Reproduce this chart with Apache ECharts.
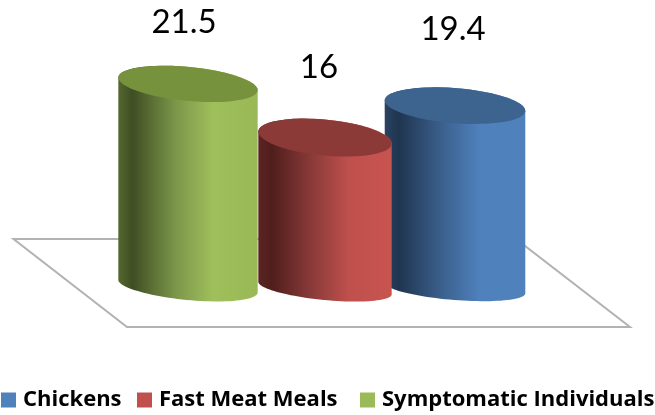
<!DOCTYPE html>
<html>
<head>
<meta charset="utf-8">
<style>html,body{margin:0;padding:0;background:#fff}#chart{width:655px;height:415px}</style>
<script src="https://cdn.jsdelivr.net/npm/echarts@6/dist/echarts.min.js"></script>
</head>
<body>
<div id="chart"></div>
<script>
// Incidence by source, drawn back to front so the nearer cylinders overlap.
const seriesNames = ['Chickens', 'Fast Meat Meals', 'Symptomatic Individuals'];
const positions = ['Symptomatic Individuals', 'Fast Meat Meals', 'Chickens'];
const chickens = [19.4];
const fastMeatMeals = [16];
const symptomaticIndividuals = [21.5];

// Look of each cylinder: flat colour, cap shade, side shading and small perspective adjustments.
const looks = {
  'Chickens': {
    color: '#4f81bd', cap: '#3d638f', tilt: 4.5, rx: 70.5, ry: 17.5, ryBase: 12, dx: -1, dy: 1, labelGap: 76, labelDx: -2,
    side: ['#2a4361', '#1f3550', '#3c628f', '#4f81bd', '#4f81bd']
  },
  'Fast Meat Meals': {
    color: '#c0504d', cap: '#8c3a38', tilt: 5.5, rx: 67, ry: 18, ryBase: 12, dx: 3, dy: 1, labelGap: 70, labelDx: -6,
    side: ['#5a2523', '#4f1e1c', '#8e3c3a', '#c0504d', '#c8544f']
  },
  'Symptomatic Individuals': {
    color: '#9bbb59', cap: '#76923c', tilt: 5.5, rx: 70, ry: 17, ryBase: 14, dx: 0, dy: -1, labelGap: 62, labelDx: -4,
    side: ['#55682f', '#3f4e24', '#7d984a', '#9fbf5b', '#99b956']
  }
};
const sideStops = [0, 0.1, 0.42, 0.68, 1];

// Sampled outline of a tilted ellipse between two parameter angles.
function arc(cx, cy, rx, ry, tilt, from, to) {
  const pts = [];
  const t = tilt * Math.PI / 180;
  const steps = 48;
  for (let i = 0; i <= steps; i++) {
    const a = from + (to - from) * i / steps;
    const ex = rx * Math.cos(a);
    const ey = ry * Math.sin(a);
    pts.push([cx + ex * Math.cos(t) - ey * Math.sin(t), cy + ex * Math.sin(t) + ey * Math.cos(t)]);
  }
  return pts;
}

function cylinder(params, api) {
  const look = looks[params.seriesName];
  const top = api.coord([api.value(0), api.value(1)]);
  const base = api.coord([api.value(0), 0]);
  const cx = top[0] + look.dx;
  const yTop = top[1] + look.dy;
  const yBase = base[1] + look.dy;
  const lower = arc(cx, yBase, look.rx, look.ryBase, look.tilt, 0, Math.PI);
  const upper = arc(cx, yTop, look.rx, look.ry, look.tilt, Math.PI, 2 * Math.PI);
  const cap = arc(cx, yTop, look.rx, look.ry, look.tilt, 0, 2 * Math.PI);
  const fill = new echarts.graphic.LinearGradient(0, 0, 1, 0,
    sideStops.map((offset, i) => ({ offset, color: look.side[i] })));
  return {
    type: 'group',
    children: [
      { type: 'polygon', shape: { points: lower.concat(upper) }, style: { fill } },
      { type: 'polygon', shape: { points: cap }, style: { fill: look.cap } },
      {
        type: 'text',
        x: cx + look.labelDx,
        y: yTop - look.labelGap,
        style: {
          text: String(api.value(1)),
          fill: '#000',
          font: '400 33px Lato, "Open Sans", sans-serif',
          align: 'center',
          verticalAlign: 'middle'
        }
      }
    ]
  };
}

// Floor plane, placed relative to the baseline of the value axis.
function floor(params, api) {
  const origin = api.coord([0, 0]);
  const y = origin[1];
  const band = api.size([1, 0])[0];
  const left = origin[0] - band * 0.5;
  return {
    type: 'polygon',
    shape: {
      points: [
        [left - 107.5, y - 48],
        [left + 395, y - 48],
        [left + 509, y + 40],
        [left + 6, y + 40]
      ]
    },
    style: { fill: '#fff', stroke: '#b2b2b2', lineWidth: 2 }
  };
}

function cylinderSeries(name, values, z) {
  return {
    name,
    type: 'custom',
    renderItem: cylinder,
    clip: false,
    z,
    itemStyle: { color: looks[name].color },
    encode: { x: 0, y: 1 },
    data: values.map(v => [positions.indexOf(name), v])
  };
}

function legendFor(name, left) {
  return {
    data: [{ name, icon: 'rect' }],
    left,
    top: 389,
    itemWidth: 15,
    itemHeight: 15,
    padding: 0,
    selectedMode: false,
    textStyle: { fontFamily: 'Open Sans', fontWeight: 700, fontSize: 22, color: '#000', padding: [0, 0, 0, 2] }
  };
}

const chart = echarts.init(document.getElementById('chart'), null, { renderer: 'canvas' });
chart.setOption({
  animation: false,
  backgroundColor: '#fff',
  grid: { left: 121, right: 132, top: 52, height: 235 },
  xAxis: { type: 'category', data: positions, show: false },
  yAxis: { type: 'value', min: 0, max: 25, show: false },
  legend: [
    legendFor(seriesNames[0], 1),
    legendFor(seriesNames[1], 137),
    legendFor(seriesNames[2], 360)
  ],
  series: [
    { type: 'custom', name: 'floor', renderItem: floor, clip: false, z: 1, encode: { x: 0, y: 1 }, data: [[0, 0]], silent: true },
    cylinderSeries('Chickens', chickens, 2),
    cylinderSeries('Fast Meat Meals', fastMeatMeals, 3),
    cylinderSeries('Symptomatic Individuals', symptomaticIndividuals, 4)
  ]
});
</script>
</body>
</html>
